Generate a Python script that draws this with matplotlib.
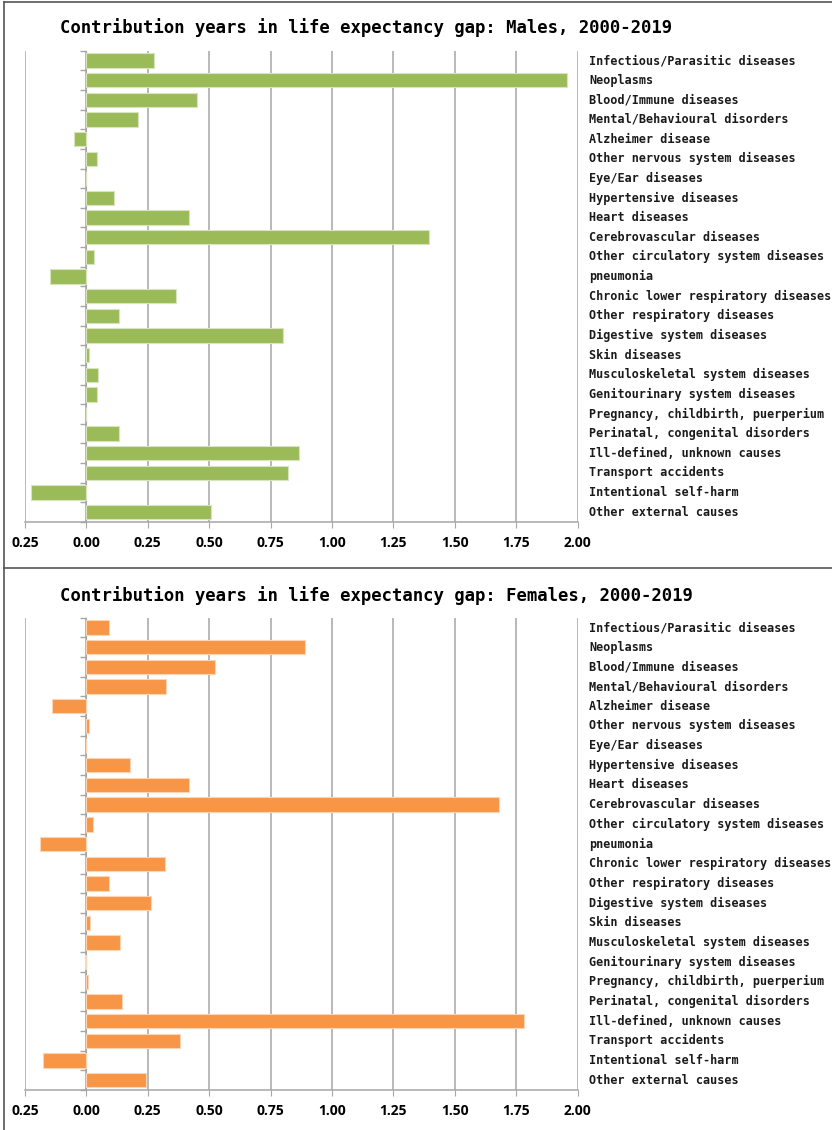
import matplotlib
matplotlib.use('Agg')
import matplotlib.pyplot as plt
from matplotlib.lines import Line2D

# Causes of death, top to bottom
causes = [
    'Infectious/Parasitic diseases', 'Neoplasms', 'Blood/Immune diseases',
    'Mental/Behavioural disorders', 'Alzheimer disease',
    'Other nervous system diseases', 'Eye/Ear diseases',
    'Hypertensive diseases', 'Heart diseases', 'Cerebrovascular diseases',
    'Other circulatory system diseases', 'pneumonia',
    'Chronic lower respiratory diseases', 'Other respiratory diseases',
    'Digestive system diseases', 'Skin diseases',
    'Musculoskeletal system diseases', 'Genitourinary system diseases',
    'Pregnancy, childbirth, puerperium', 'Perinatal, congenital disorders',
    'Ill-defined, unknown causes', 'Transport accidents',
    'Intentional self-harm', 'Other external causes',
]

# contribution (years) to the life expectancy gap
males = [0.274, 1.957, 0.449, 0.212, -0.050, 0.042, 0.0, 0.114, 0.417, 1.395,
         0.033, -0.148, 0.364, 0.132, 0.801, 0.010, 0.048, 0.042, 0.0, 0.134,
         0.866, 0.820, -0.225, 0.508]
females = [0.092, 0.890, 0.525, 0.325, -0.140, 0.011, 0.0, 0.177, 0.419, 1.680,
           0.026, -0.189, 0.320, 0.094, 0.263, 0.015, 0.136, -0.005, 0.005, 0.145,
           1.783, 0.383, -0.176, 0.243]

xticks = [-0.25, 0.0, 0.25, 0.5, 0.75, 1.0, 1.25, 1.5, 1.75, 2.0]

W, H = 832, 1130
fig = plt.figure(figsize=(W / 100, H / 100), dpi=100)

mono = 'DejaVu Sans Mono'
grid_col = '#a6a6a6'


def panel(bottom_px, top_px, values, color, edge, title, title_y):
    left, right = 25, 577.5
    ax = fig.add_axes([left / W, (H - bottom_px) / H,
                       (right - left) / W, (bottom_px - top_px) / H])
    y = list(range(len(causes)))
    ax.barh(y, values, height=0.73, color=color, edgecolor=edge,
            linewidth=0.8, zorder=3)
    ax.set_xlim(-0.25, 2.0)
    ax.set_ylim(len(causes) - 0.5, -0.5)

    ax.set_xticks(xticks)
    ax.set_xticklabels([f'{abs(t):.2f}' for t in xticks],
                       fontfamily='Open Sans', fontweight='bold', fontsize=10)
    ax.tick_params(axis='x', length=4, color=grid_col, pad=6)
    ax.xaxis.grid(True, color=grid_col, linewidth=1.1, zorder=0)

    # category separators on the zero line
    ax.set_yticks([i - 0.5 for i in range(len(causes) + 1)])
    ax.set_yticklabels([])
    ax.tick_params(axis='y', length=4, color=grid_col, width=1)

    for s in ('top', 'right'):
        ax.spines[s].set_visible(False)
    ax.spines['left'].set_position(('data', 0))
    ax.spines['left'].set_color(grid_col)
    ax.spines['bottom'].set_color(grid_col)
    ax.spines['bottom'].set_linewidth(1.1)

    for i, name in enumerate(causes):
        ax.text(1.0215, i, name, transform=ax.get_yaxis_transform(),
                ha='left', va='center', fontfamily=mono,
                fontweight='bold', fontsize=8.5, color='#1a1a1a')

    fig.text(60 / W, 1 - title_y / H, title, ha='left', va='center',
             fontfamily=mono, fontweight='bold', fontsize=12.4)
    return ax


panel(522, 50.7, males, '#9bbb59', '#d7e4bd',
      'Contribution years in life expectancy gap: Males, 2000-2019', 28)
panel(1090, 617.7, females, '#f79646', '#fbd5b5',
      'Contribution years in life expectancy gap: Females, 2000-2019', 596)

# frame lines around the two panels
border = dict(color='#555555', linewidth=1.2, transform=fig.transFigure)
fig.add_artist(Line2D([3.5 / W, 3.5 / W], [0, 1 - 2 / H], **border))
fig.add_artist(Line2D([3.5 / W, 1], [1 - 2 / H, 1 - 2 / H], **border))
fig.add_artist(Line2D([3.5 / W, 1], [1 - 568 / H, 1 - 568 / H], **border))

fig.savefig('out.png', dpi=100, facecolor='white')
